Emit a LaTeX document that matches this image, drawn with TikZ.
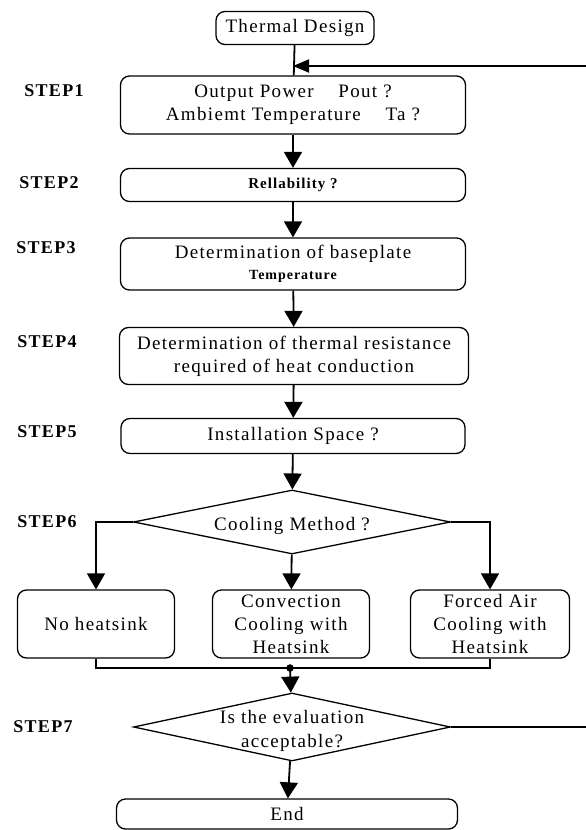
\documentclass[tikz,border=0pt]{standalone}
\usepackage{fontspec}
\setmainfont{Liberation Serif}[LetterSpace=7]
\usetikzlibrary{arrows.meta,shapes.geometric}

\begin{document}
\begin{tikzpicture}[x=1pt,y=-1pt,
	box/.style={draw,rounded corners=9pt,line width=1.3pt,inner sep=0pt,align=center,font=\fontsize{19}{23}\selectfont},
	choice/.style={draw,diamond,line width=1.3pt,inner sep=0pt},
	steptext/.style={font=\bfseries\fontsize{18}{21}\selectfont},
	link/.style={line width=1.8pt},
	flow/.style={line width=1.8pt,-{Triangle[length=16pt,width=18pt]}}]
\path[use as bounding box,clip] (0,0) rectangle (586,830);

% step labels
\foreach \x/\y/\n in {54/91/1,49/183/2,46/248/3,47/342/4,47/432/5,47/522/6,43/727/7}
	\node[steptext] (step\n) at (\x,\y) {STEP\n};

% boxes
\node[box,minimum width=158,minimum height=33] (design) at (295,28) {Thermal Design};
\node[box,minimum width=345,minimum height=58] (power) at (293,105) {Output Power\hspace{1.3em}Pout ?\\Ambiemt Temperature\hspace{1.3em}Ta ?};
\node[box,minimum width=345,minimum height=33,font=\bfseries\fontsize{15}{18}\selectfont] (rel) at (293,185) {Rellability ?};
\node[box,minimum width=345,minimum height=52] (base) at (293,264) {Determination of baseplate\\[-2pt]{\bfseries\fontsize{14}{16}\selectfont Temperature}};
\node[box,minimum width=349,minimum height=57] (resist) at (294,356) {Determination of thermal resistance\\required of heat conduction};
\node[box,minimum width=344,minimum height=35] (space) at (293,436) {Installation Space ?};
\node[choice,minimum width=317,minimum height=64] (method) at (292,522) {};
\node[font=\fontsize{19}{23}\selectfont] (methodtext) at (292,526) {Cooling Method ?};
\node[box,minimum width=157,minimum height=68] (nosink) at (96,624) {No heatsink};
\node[box,minimum width=157,minimum height=68] (conv) at (291,624) {Convection\\Cooling with\\Heatsink};
\node[box,minimum width=159,minimum height=68] (forced) at (490,624) {Forced Air\\Cooling with\\Heatsink};
\node[choice,minimum width=317,minimum height=68] (accept) at (292,727) {};
\node[align=center,font=\fontsize{19}{24}\selectfont] (accepttext) at (292,731) {Is the evaluation\\acceptable?};
\node[box,minimum width=341,minimum height=30] (stop) at (287,814) {End};

\coordinate (merge) at (290,668);
\coordinate (loop) at (293,66);

% arrows
\draw[link] (design) -- (power);
\draw[flow] (power) -- (rel);
\draw[flow] (rel) -- (base);
\draw[flow] (base) -- (resist);
\draw[flow] (resist) -- (space);
\draw[flow] (space) -- (method);
\draw[flow] (method.west) -| (nosink);
\draw[flow] (method) -- (conv);
\draw[flow] (method.east) -| (forced);
\draw[line width=1.2pt] (nosink.south) |- (merge) -| (forced.south);
\filldraw (merge) circle (3.5pt);
\draw[flow] (merge) -- (accept);
\draw[flow] (accept) -- (stop);
\draw[link,-{Triangle[length=16pt,width=13pt]}] (accept.east) -- (600,727) -- (600,66) -- (loop);

\end{tikzpicture}
\end{document}
